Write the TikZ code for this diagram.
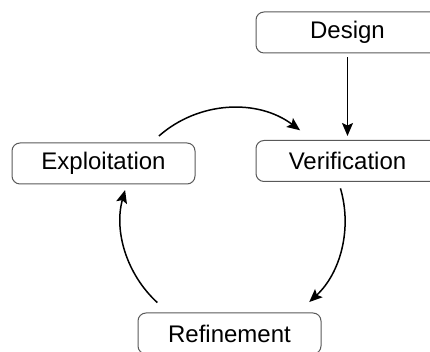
\documentclass[tikz,border=0pt]{standalone}
\usepackage{fontspec}
\setmainfont{Liberation Sans}
\usetikzlibrary{arrows.meta}
\tikzset{
  stage/.style={draw=black!65, line width=1pt, rounded corners=8pt,
    minimum width=183pt, minimum height=41pt, inner sep=0pt,
    font=\fontsize{24}{27}\selectfont},
  flow/.style={line width=1.5pt, -{Stealth[length=13pt,width=11pt,inset=2.5pt]}}
}
\begin{document}
\begin{tikzpicture}[x=1pt,y=1pt]
  \useasboundingbox (0,0) rectangle (430,352);
  \clip (0,0) rectangle (430,352);
  % stages
  \node[stage] (design) at (347.5,319.5) {Design};
  \node[stage] (verif)  at (347.5,191) {Verification};
  \node[stage] (exploit) at (103.5,188.5) {Exploitation};
  \node[stage] (refine) at (229.5,18.5) {Refinement};
  % entry from design
  \draw[flow, shorten <=4pt, shorten >=4pt] (design.south) -- (verif.north);
  % the cycle, drawn as arcs of one circle
  \coordinate (c) at (233,132);
  \coordinate (t0) at ([shift={(131.4:112)}]c);
  \coordinate (r0) at ([shift={(16.4:112)}]c);
  \coordinate (b0) at ([shift={(227.5:112)}]c);
  \draw[flow] (t0) arc[start angle=131.4, end angle=53.2, radius=112];
  \draw[flow] (r0) arc[start angle=16.4, end angle=-47.1, radius=112];
  \draw[flow] (b0) arc[start angle=227.5, end angle=164.5, radius=112];
\end{tikzpicture}
\end{document}
